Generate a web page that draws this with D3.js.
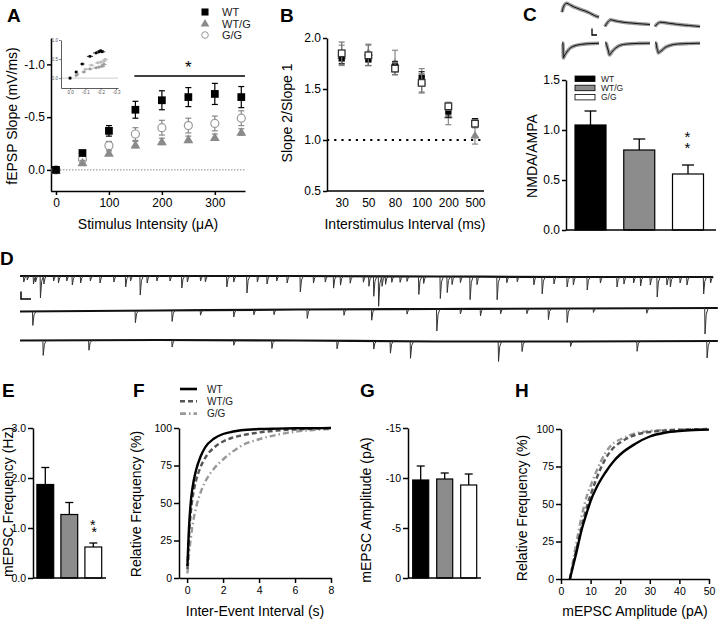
<!DOCTYPE html>
<html><head><meta charset="utf-8">
<script src="https://cdn.jsdelivr.net/npm/d3@7"></script>
<style>body{margin:0;background:#fff}svg{display:block}</style>
</head><body>
<script>
// ---------------- DATA ----------------
const genotypes = ["WT", "WT/G", "G/G"];

// Panel A: input-output
const A_intensity = [0, 50, 100, 150, 200, 250, 300, 350];
const A_WT = [0, -0.16, -0.37, -0.57, -0.66, -0.69, -0.72, -0.69];
const A_WT_err = [0.01, 0.02, 0.05, 0.08, 0.09, 0.09, 0.10, 0.10];
const A_WTG = [0, -0.07, -0.16, -0.24, -0.27, -0.29, -0.31, -0.36];
const A_WTG_err = [0.01, 0.02, 0.02, 0.03, 0.03, 0.03, 0.03, 0.03];
const A_GG = [0, -0.10, -0.23, -0.34, -0.40, -0.42, -0.44, -0.49];
const A_GG_err = [0.01, 0.02, 0.04, 0.06, 0.07, 0.07, 0.07, 0.07];
const A_xticks = [0, 100, 200, 300];
const A_yticks = [-1.0, -0.5, 0.0];
const A_sigRange = [148, 357];
// Inset: fibre volley vs slope
const In_WT_fv = [0.0, -0.04, -0.08, -0.13, -0.17, -0.19, -0.20, -0.21];
const In_WTG_fv = [0.0, -0.04, -0.09, -0.13, -0.17, -0.19, -0.21, -0.22];
const In_GG_fv = [0.0, -0.05, -0.10, -0.14, -0.18, -0.20, -0.22, -0.23];
const In_fv_err = [0.005, 0.01, 0.015, 0.02, 0.02, 0.02, 0.02, 0.02];
const In_xticks = [0.0, -0.1, -0.2, -0.3];
const In_yticks = [-1.0, -0.5, 0.0];

// Panel B: paired-pulse ratio
const B_isi = ["30", "50", "80", "100", "200", "500"];
const B_WT = [1.80, 1.79, 1.72, 1.61, 1.28, 1.18];
const B_WT_err = [0.05, 0.06, 0.05, 0.06, 0.06, 0.03];
const B_WTG = [1.83, 1.86, 1.76, 1.58, 1.25, 1.05];
const B_WTG_err = [0.10, 0.08, 0.12, 0.12, 0.10, 0.09];
const B_GG = [1.85, 1.83, 1.70, 1.56, 1.33, 1.16];
const B_GG_err = [0.11, 0.10, 0.06, 0.09, 0.04, 0.04];
const B_yticks = [0.5, 1.0, 1.5, 2.0];

// Panel C: NMDA/AMPA
const C_ratio = [1.05, 0.80, 0.56];
const C_err = [0.14, 0.11, 0.09];
const C_yticks = [0.0, 0.5, 1.0, 1.5];
// example traces (pA)
const C_nmda_t = [0, 1, 3, 5, 8, 12, 16, 20, 25, 30, 35, 40];
const C_nmda = [
  [306, 380, 460, 486, 460, 420, 390, 360, 330, 290, 240, 206],
  [20, 60, 120, 154, 140, 120, 106, 96, 86, 76, 68, 60],
  [20, 50, 90, 106, 100, 86, 74, 62, 50, 40, 30, 20]
];
const C_ampa_t = [0, 1, 1.5, 2.5, 3, 4, 6, 9, 13, 20, 30, 40];
const C_ampa = [
  [0, 0, 300, 260, 240, 210, 160, 100, 60, 30, 12, 6],
  [0, 0, 40, 120, 160, 240, 180, 110, 50, 20, 8, 4],
  [0, 0, 80, 160, 200, 180, 150, 90, 50, 20, 10, 4]
];

// Panel D: mEPSC traces (time s, amplitude pA)
const D1_t = [0.5,1.0,1.9,2.2,2.9,3.4,4.8,5.5,6.7,7.5,8.7,10.1,11.5,13.5,15.2,15.9,17.3,18.3,19.7,21.6,23.3,24.1,26.0,26.7,29.8,30.8,32.7,34.2,35.6,37.0,38.5,40.4,42.3,44.0,45.2,46.2,47.6,49.5,50.3,51.0,51.7,52.2,52.7,53.6,54.8,55.8,57.5,58.2,60.6,61.6,62.3,63.5,64.9,65.9,68.8,70.2,71.7,74.1,75.3,77.0,78.9,79.8,81.8,83.7,86.1,87.1,88.5,89.5,90.9,91.9,93.3,93.8,95.2,96.2,98.6,99.6];
const D1_a = [12,8,16,12,44,16,10,14,10,18,14,10,14,12,22,10,38,14,10,10,24,12,10,12,22,12,34,12,16,10,14,32,14,12,24,18,14,12,20,40,60,20,16,12,12,10,36,14,44,32,16,12,46,16,46,12,10,16,34,14,20,16,26,12,20,14,12,18,16,40,16,20,12,16,34,12];
const D2_t = [1.8,16.6,21.9,26.0,30.8,33.7,36.6,41.4,46.7,50.7,55.8,60.1,63.5,66.4,69.3,73.1,76.2,78.9,82.7,90.4,98.8];
const D2_a = [28,24,22,10,14,10,10,18,12,22,10,44,10,14,10,10,22,28,8,10,52];
const D3_t = [3.3,9.9,21.9,30.8,36.3,45.7,51.0,53.4,56.3,69.0,72.4,79.4,89.0,99.1];
const D3_a = [30,20,14,10,16,16,16,24,34,40,20,10,20,34];
const D_drift_t = [0, 20, 40, 60, 80, 100.7];
const D1_drift = [0, 0, 0, 1, 2, 2];
const D2_drift = [0, -2, -4, -5, -6, -7];
const D3_drift = [0, -1, 0, 2, 2, 1];
const D_duration = [100, 100.7, 100.7];

// Panel E: mEPSC frequency
const E_freq = [1.87, 1.27, 0.62];
const E_err = [0.34, 0.24, 0.08];
const E_yticks = [0, 1, 2, 3];

// Panel F: cumulative inter-event interval
const F_t = [0.02,0.05,0.1,0.2,0.3,0.5,0.75,1,1.5,2,2.5,3,4,5,6,7,8];
const F_WT = [8,18,32,50,60,72,81,87,93,96,97.5,98.5,99.3,99.6,99.8,99.9,100];
const F_WTG = [6,15,27,43,53,65,74,80,87,91,93.5,95,97,98.3,99,99.5,99.8];
const F_GG = [3,8,15,26,35,47,57,64,73,79,84,88,92.5,95.5,97.5,98.7,99.3];
const F_xticks = [0, 2, 4, 6, 8];
const F_yticks = [0, 25, 50, 75, 100];

// Panel G: mEPSC amplitude
const G_amp = [-9.8, -9.9, -9.3];
const G_err = [1.4, 0.6, 1.1];
const G_yticks = [-15, -10, -5, 0];

// Panel H: cumulative amplitude
const H_amp = [3,5,7,9,10,12,15,18,20,25,30,35,40,45,50];
const H_WT = [0,16,33,46,52,61,71,79,83,90,95,97.5,98.7,99.3,99.6];
const H_WTG = [0,18,35,50,56,67,80,88,91,96,98,99,99.5,99.8,100];
const H_GG = [0,22,42,57,62,72,84,91,93,97,98.7,99.3,99.6,99.8,100];
const H_xticks = [0, 10, 20, 30, 40, 50];
const H_yticks = [0, 25, 50, 75, 100];

// ---------------- DRAWING ----------------
const FONT = "'Liberation Sans', Arial, Helvetica, sans-serif";
const barFill = {"WT": "#000", "WT/G": "#8c8c8c", "G/G": "#fff"};
const svg = d3.select("body").append("svg").attr("width", 720).attr("height", 622)
  .style("font-family", FONT);
svg.append("rect").attr("width", 720).attr("height", 622).attr("fill", "#fff");

function styleAxis(g, fs) {
  g.attr("font-family", FONT).attr("font-size", fs);
  g.select(".domain").attr("stroke", "#000").attr("stroke-width", 1.5);
  g.selectAll(".tick line").attr("stroke", "#000").attr("stroke-width", 1.5);
  g.selectAll(".tick text").attr("fill", "#000");
  return g;
}
function panelLabel(t, x, y) {
  svg.append("text").attr("x", x).attr("y", y).attr("font-size", 19).attr("font-weight", "bold").text(t);
}
function yTitle(t, x, y, fs) {
  svg.append("text").attr("transform", `translate(${x},${y}) rotate(-90)`)
    .attr("text-anchor", "middle").attr("font-size", fs).text(t);
}
function xTitle(t, x, y, fs) {
  svg.append("text").attr("x", x).attr("y", y).attr("text-anchor", "middle").attr("font-size", fs).text(t);
}
function hline(x1, x2, y, w) {
  svg.append("line").attr("x1", x1).attr("x2", x2).attr("y1", y).attr("y2", y)
    .attr("stroke", "#000").attr("stroke-width", w || 1.5);
}
function errBar(g, x, y1, y2, cap, color, w) {
  g.append("line").attr("x1", x).attr("x2", x).attr("y1", y1).attr("y2", y2).attr("stroke", color).attr("stroke-width", w);
  g.append("line").attr("x1", x - cap / 2).attr("x2", x + cap / 2).attr("y1", y1).attr("y2", y1).attr("stroke", color).attr("stroke-width", w);
  g.append("line").attr("x1", x - cap / 2).attr("x2", x + cap / 2).attr("y1", y2).attr("y2", y2).attr("stroke", color).attr("stroke-width", w);
}
function errUp(g, x, yTop, yBar, cap, w) {
  g.append("line").attr("x1", x).attr("x2", x).attr("y1", yTop).attr("y2", yBar).attr("stroke", "#000").attr("stroke-width", w);
  g.append("line").attr("x1", x - cap / 2).attr("x2", x + cap / 2).attr("y1", yTop).attr("y2", yTop).attr("stroke", "#000").attr("stroke-width", w);
}
// two asterisks in one text node, stacked via per-glyph positions
function stackedStars(x, y, dx, dy, fs) {
  svg.append("text").attr("font-size", fs)
    .attr("x", `${x - 2.5} ${x - 2.5 + dx}`).attr("y", `${y} ${y + dy}`).text("**");
}

// ===== Panel A =====
panelLabel("A", 7, 22);
const ax = d3.scaleLinear().domain([-10, 357]).range([50.7, 245]);
const ay = d3.scaleLinear().domain([0.2, -1.25]).range([191, 38]);
svg.append("line").attr("x1", 51).attr("x2", 245).attr("y1", ay(0)).attr("y2", ay(0))
  .attr("stroke", "#888").attr("stroke-width", 1).attr("stroke-dasharray", "1.5,1.5");
styleAxis(svg.append("g").attr("transform", "translate(51,0)")
  .call(d3.axisLeft(ay).tickValues(A_yticks).tickFormat(d => d.toFixed(1)).tickSize(4).tickPadding(2).tickSizeOuter(0)), 12);
styleAxis(svg.append("g").attr("transform", "translate(0,191)")
  .call(d3.axisBottom(ax).tickValues(A_xticks).tickSize(4).tickPadding(3).tickSizeOuter(0)), 12);
yTitle("fEPSP Slope (mV/ms)", 17, 116, 14);
xTitle("Stimulus Intensity (\u03bcA)", 148, 229, 14);
hline(ax(A_sigRange[0]), ax(A_sigRange[1]), 76, 1.5);
svg.append("text").attr("x", ax(250)).attr("y", 73).attr("text-anchor", "middle").attr("font-size", 17).text("*");
{
  const gA = svg.append("g");
  A_intensity.forEach((x, i) => errBar(gA, ax(x), ay(A_GG[i] - A_GG_err[i]), ay(A_GG[i] + A_GG_err[i]), 6, "#888", 1.2));
  A_intensity.forEach((x, i) => gA.append("circle").attr("cx", ax(x)).attr("cy", ay(A_GG[i])).attr("r", 4).attr("fill", "#fff").attr("stroke", "#999").attr("stroke-width", 1.2));
  A_intensity.forEach((x, i) => errBar(gA, ax(x), ay(A_WTG[i] - A_WTG_err[i]), ay(A_WTG[i] + A_WTG_err[i]), 6, "#888", 1.2));
  A_intensity.forEach((x, i) => gA.append("path").attr("d", d3.symbol(d3.symbolTriangle, 42)()).attr("transform", `translate(${ax(x)},${ay(A_WTG[i]) + 1})`).attr("fill", "#8a8a8a"));
  A_intensity.forEach((x, i) => errBar(gA, ax(x), ay(A_WT[i] - A_WT_err[i]), ay(A_WT[i] + A_WT_err[i]), 6, "#000", 1.2));
  A_intensity.forEach((x, i) => gA.append("path").attr("d", d3.symbol(d3.symbolSquare, 60)()).attr("transform", `translate(${ax(x)},${ay(A_WT[i])})`).attr("fill", "#000"));
}
{
  const lg = svg.append("g");
  lg.append("path").attr("d", d3.symbol(d3.symbolSquare, 50)()).attr("transform", "translate(205,12)").attr("fill", "#000");
  lg.append("path").attr("d", d3.symbol(d3.symbolTriangle, 32)()).attr("transform", "translate(205,24)").attr("fill", "#8a8a8a");
  lg.append("circle").attr("cx", 205).attr("cy", 35).attr("r", 3.3).attr("fill", "#fff").attr("stroke", "#999").attr("stroke-width", 1);
  genotypes.forEach((g, i) => lg.append("text").attr("x", 222).attr("y", 16 + i * 11.5).attr("font-size", 11).attr("fill", "#222").text(g));
}
{
  const ix = d3.scaleLinear().domain([0.059, -0.313]).range([61, 118]);
  const iy = d3.scaleLinear().domain([0.26, -1.0]).range([88, 40]);
  const gi = svg.append("g");
  gi.append("line").attr("x1", 61).attr("x2", 118).attr("y1", iy(0)).attr("y2", iy(0)).attr("stroke", "#aaa").attr("stroke-width", 0.6);
  const yaxI = gi.append("g").attr("transform", "translate(61,0)")
    .call(d3.axisLeft(iy).tickValues(In_yticks).tickFormat(d => d.toFixed(1)).tickSize(2).tickPadding(1).tickSizeOuter(0));
  const xaxI = gi.append("g").attr("transform", "translate(0,88)")
    .call(d3.axisBottom(ix).tickValues(In_xticks).tickFormat(d => d.toFixed(1)).tickSize(2).tickPadding(1).tickSizeOuter(0));
  [yaxI, xaxI].forEach(a => {
    a.attr("font-size", 4.5).attr("font-family", FONT);
    a.select(".domain").attr("stroke", "#333").attr("stroke-width", 0.8);
    a.selectAll(".tick line").attr("stroke", "#333").attr("stroke-width", 0.6);
    a.selectAll(".tick text").attr("fill", "#555");
  });
  const sets = [[In_GG_fv, A_GG, "#bbb"], [In_WTG_fv, A_WTG, "#999"], [In_WT_fv, A_WT, "#000"]];
  sets.forEach(([fv, sl, col]) => {
    fv.forEach((v, i) => {
      gi.append("line").attr("x1", ix(v - In_fv_err[i])).attr("x2", ix(v + In_fv_err[i])).attr("y1", iy(sl[i])).attr("y2", iy(sl[i])).attr("stroke", col).attr("stroke-width", 0.8);
      gi.append("rect").attr("x", ix(v) - 1.3).attr("y", iy(sl[i]) - 1.3).attr("width", 2.6).attr("height", 2.6).attr("fill", col);
    });
  });
}

// ===== Panel B =====
panelLabel("B", 280, 22);
const bx = d3.scalePoint().domain(B_isi).range([341.7, 475]);
const by = d3.scaleLinear().domain([0.5, 2.0]).range([191, 38]);
svg.append("line").attr("x1", 327).attr("x2", 483).attr("y1", by(1)).attr("y2", by(1))
  .attr("stroke", "#000").attr("stroke-width", 2.2).attr("stroke-dasharray", "2.2,5");
styleAxis(svg.append("g").attr("transform", "translate(327,0)")
  .call(d3.axisLeft(by).tickValues(B_yticks).tickFormat(d => d.toFixed(1)).tickSize(4).tickPadding(2).tickSizeOuter(0)), 12);
{
  const gx = styleAxis(svg.append("g").attr("transform", "translate(0,191)")
    .call(d3.axisBottom(bx).tickSize(0).tickPadding(7).tickSizeOuter(0)), 12);
  gx.select(".domain").remove();
  hline(327, 484, 191, 1.5);
}
yTitle("Slope 2/Slope 1", 292, 113, 14);
xTitle("Interstimulus Interval (ms)", 405, 229, 14);
{
  const gB = svg.append("g");
  B_isi.forEach((c, i) => errBar(gB, bx(c), by(B_WTG[i] + B_WTG_err[i]), by(B_WTG[i] - B_WTG_err[i]), 6, "#888", 1.2));
  B_isi.forEach((c, i) => gB.append("path").attr("d", d3.symbol(d3.symbolTriangle, 36)()).attr("transform", `translate(${bx(c)},${by(B_WTG[i]) + 1})`).attr("fill", "#888"));
  B_isi.forEach((c, i) => errBar(gB, bx(c), by(B_WT[i] + B_WT_err[i]), by(B_WT[i] - B_WT_err[i]), 6, "#222", 1.2));
  B_isi.forEach((c, i) => gB.append("path").attr("d", d3.symbol(d3.symbolSquare, 40)()).attr("transform", `translate(${bx(c)},${by(B_WT[i])})`).attr("fill", "#000"));
  B_isi.forEach((c, i) => errBar(gB, bx(c), by(B_GG[i] + B_GG_err[i]), by(B_GG[i] - B_GG_err[i]), 6, "#777", 1.2));
  B_isi.forEach((c, i) => gB.append("rect").attr("x", bx(c) - 3.3).attr("y", by(B_GG[i]) - 3.3).attr("width", 6.6).attr("height", 6.6).attr("fill", "#fff").attr("stroke", "#333").attr("stroke-width", 1.3));
}

// ===== Panel C =====
panelLabel("C", 523, 21);
const cy = d3.scaleLinear().domain([0, 1.5]).range([230, 80]);
const cx = d3.scalePoint().domain(genotypes).range([590.5, 688]);
styleAxis(svg.append("g").attr("transform", "translate(566,0)")
  .call(d3.axisLeft(cy).tickValues(C_yticks).tickFormat(d => d.toFixed(1)).tickSize(4).tickPadding(2).tickSizeOuter(0)), 12);
yTitle("NMDA/AMPA", 537, 156, 14);
genotypes.forEach((g, i) => {
  errUp(svg, cx(g), cy(C_ratio[i] + C_err[i]), cy(C_ratio[i]), 12, 1.3);
  svg.append("rect").attr("x", cx(g) - 15.5).attr("y", cy(C_ratio[i])).attr("width", 31).attr("height", cy(0) - cy(C_ratio[i]))
    .attr("fill", barFill[g]).attr("stroke", "#000").attr("stroke-width", 1.2);
});
hline(566, 716, 230, 1.5);
stackedStars(cx("G/G") - 1, 142, 0, 11, 15);
genotypes.forEach((g, i) => {
  svg.append("rect").attr("x", 575).attr("y", 76 + i * 9.2).attr("width", 20).attr("height", 5.5)
    .attr("fill", barFill[g]).attr("stroke", "#000").attr("stroke-width", 0.8);
  svg.append("text").attr("x", 601).attr("y", 82 + i * 9.2).attr("font-size", 8.5).attr("fill", "#222").text(g);
});
{
  const traceX = [562, 605, 655], traceW = [37, 45, 45];
  const nmdaAmp = d3.scaleLinear().domain([0, 500]).range([0, 25]);
  const gT = svg.append("g");
  genotypes.forEach((g, k) => {
    const tx = d3.scaleLinear().domain([0, 40]).range([traceX[k], traceX[k] + traceW[k]]);
    const lineN = d3.line().x((d, i) => tx(C_nmda_t[i])).y(d => 27.5 - nmdaAmp(d)).curve(d3.curveMonotoneX);
    const lineA = d3.line().x((d, i) => tx(C_ampa_t[i])).y(d => 43 + nmdaAmp(d)).curve(d3.curveMonotoneX);
    [[lineN, C_nmda[k]], [lineA, C_ampa[k]]].forEach(([ln, dat]) => {
      gT.append("path").attr("d", ln(dat)).attr("fill", "none").attr("stroke", "#9a9a9a").attr("stroke-width", 3.6);
      gT.append("path").attr("d", ln(dat)).attr("fill", "none").attr("stroke", "#111").attr("stroke-width", 1);
    });
  });
  gT.append("path").attr("d", "M592,28.5V35H597").attr("fill", "none").attr("stroke", "#000").attr("stroke-width", 1.3);
}

// ===== Panel D =====
panelLabel("D", 0, 265);
{
  const tx = d3.scaleLinear().domain([0, 100]).range([20, 713]);
  const amp = d3.scaleLinear().domain([0, 60]).range([0, 30]);
  const bases = [276, 311.5, 340.5];
  const traces = [[D1_t, D1_a, D1_drift], [D2_t, D2_a, D2_drift], [D3_t, D3_a, D3_drift]];
  const gD = svg.append("g");
  traces.forEach(([ts, as, drift], k) => {
    const base = bases[k];
    const driftAt = d3.scaleLinear().domain(D_drift_t).range(drift);
    const bl = d3.line().x(d => tx(d[0])).y(d => base + amp(d[1])).curve(d3.curveMonotoneX);
    gD.append("path").attr("d", bl(D_drift_t.map((t, i) => [Math.min(t, D_duration[k]), drift[i]])))
      .attr("fill", "none").attr("stroke", "#111").attr("stroke-width", 2.2);
    ts.forEach((t, i) => {
      const d0 = driftAt(t), a = as[i];
      const pts = [[t, d0], [t + 0.05, d0 + a], [t + 0.22, d0 + a * 0.25], [t + 0.5, d0]];
      gD.append("path").attr("d", d3.line().x(d => tx(d[0])).y(d => base + amp(d[1]))(pts))
        .attr("fill", "none").attr("stroke", "#333").attr("stroke-width", 1);
    });
  });
  gD.append("path").attr("d", "M21,291.5V299H31").attr("fill", "none").attr("stroke", "#000").attr("stroke-width", 1.5);
}

// ===== Panel E =====
panelLabel("E", 2, 397);
const ey = d3.scaleLinear().domain([0, 3]).range([578, 428]);
const ex = d3.scalePoint().domain(genotypes).range([45.3, 93.3]);
styleAxis(svg.append("g").attr("transform", "translate(33,0)")
  .call(d3.axisLeft(ey).tickValues(E_yticks).tickSize(5).tickPadding(2).tickSizeOuter(0)), 10.5);
yTitle("mEPSC Frequency (Hz)", 13, 502, 14);
genotypes.forEach((g, i) => {
  errUp(svg, ex(g), ey(E_freq[i] + E_err[i]), ey(E_freq[i]), 8, 1.3);
  svg.append("rect").attr("x", ex(g) - 8.4).attr("y", ey(E_freq[i])).attr("width", 16.8).attr("height", ey(0) - ey(E_freq[i]))
    .attr("fill", barFill[g]).attr("stroke", "#000").attr("stroke-width", 1.2);
});
hline(33, 106, 578, 1.5);
stackedStars(92.5, 530, 1.5, 7, 14);

// ===== Panel F =====
panelLabel("F", 133, 397);
const fx = d3.scaleLinear().domain([-0.45, 8]).range([179, 331]);
const fy = d3.scaleLinear().domain([0, 100]).range([578, 428]);
styleAxis(svg.append("g").attr("transform", "translate(179,0)")
  .call(d3.axisLeft(fy).tickValues(F_yticks).tickSize(5).tickPadding(2).tickSizeOuter(0)), 10.5);
styleAxis(svg.append("g").attr("transform", "translate(0,578)")
  .call(d3.axisBottom(fx).tickValues(F_xticks).tickSize(5).tickPadding(4).tickSizeOuter(0)), 10.5);
yTitle("Relative Frequency (%)", 141, 504, 14);
xTitle("Inter-Event Interval (s)", 255, 616, 14);
const lineStyles = {
  "WT": {stroke: "#000", dash: null},
  "WT/G": {stroke: "#555", dash: "5,3"},
  "G/G": {stroke: "#999", dash: "6,3,1.5,3"}
};
function curves(xs, series, sx, sy) {
  const ln = d3.line().x((d, i) => sx(xs[i])).y(d => sy(d)).curve(d3.curveMonotoneX);
  ["G/G", "WT/G", "WT"].forEach(g => {
    const st = lineStyles[g];
    svg.append("path").attr("d", ln(series[g])).attr("fill", "none").attr("stroke", st.stroke)
      .attr("stroke-width", 2.4).attr("stroke-dasharray", st.dash);
  });
}
curves(F_t, {"WT": F_WT, "WT/G": F_WTG, "G/G": F_GG}, fx, fy);
genotypes.forEach((g, i) => {
  const st = lineStyles[g];
  svg.append("line").attr("x1", 180).attr("x2", 197).attr("y1", 389 + i * 12.3).attr("y2", 389 + i * 12.3)
    .attr("stroke", st.stroke).attr("stroke-width", 2.6).attr("stroke-dasharray", st.dash);
  svg.append("text").attr("x", 207).attr("y", 392.5 + i * 12.3).attr("font-size", 10).attr("fill", "#222").text(g);
});

// ===== Panel G =====
panelLabel("G", 360, 397);
const gy = d3.scaleLinear().domain([0, -15]).range([578, 428]);
const gx = d3.scalePoint().domain(genotypes).range([420.7, 468.7]);
styleAxis(svg.append("g").attr("transform", "translate(408,0)")
  .call(d3.axisLeft(gy).tickValues(G_yticks).tickFormat(d => String(d)).tickSize(5).tickPadding(2).tickSizeOuter(0)), 10.5);
yTitle("mEPSC Amplitude (pA)", 371, 510, 14);
genotypes.forEach((g, i) => {
  errUp(svg, gx(g), gy(G_amp[i] - G_err[i]), gy(G_amp[i]), 8, 1.3);
  svg.append("rect").attr("x", gx(g) - 8).attr("y", gy(G_amp[i])).attr("width", 16).attr("height", gy(0) - gy(G_amp[i]))
    .attr("fill", barFill[g]).attr("stroke", "#000").attr("stroke-width", 1.2);
});
hline(408, 481, 578, 1.5);

// ===== Panel H =====
panelLabel("H", 515, 397);
const hx = d3.scaleLinear().domain([0, 50]).range([561, 709]);
const hy = d3.scaleLinear().domain([0, 100]).range([579, 429]);
styleAxis(svg.append("g").attr("transform", "translate(561,0)")
  .call(d3.axisLeft(hy).tickValues(H_yticks).tickSize(5).tickPadding(2).tickSizeOuter(0)), 10.5);
styleAxis(svg.append("g").attr("transform", "translate(0,579)")
  .call(d3.axisBottom(hx).tickValues(H_xticks).tickSize(5).tickPadding(4).tickSizeOuter(0)), 10.5);
yTitle("Relative Frequency (%)", 527, 508, 14);
xTitle("mEPSC Amplitude (pA)", 635, 616, 14);
curves(H_amp, {"WT": H_WT, "WT/G": H_WTG, "G/G": H_GG}, hx, hy);
</script>
</body></html>
